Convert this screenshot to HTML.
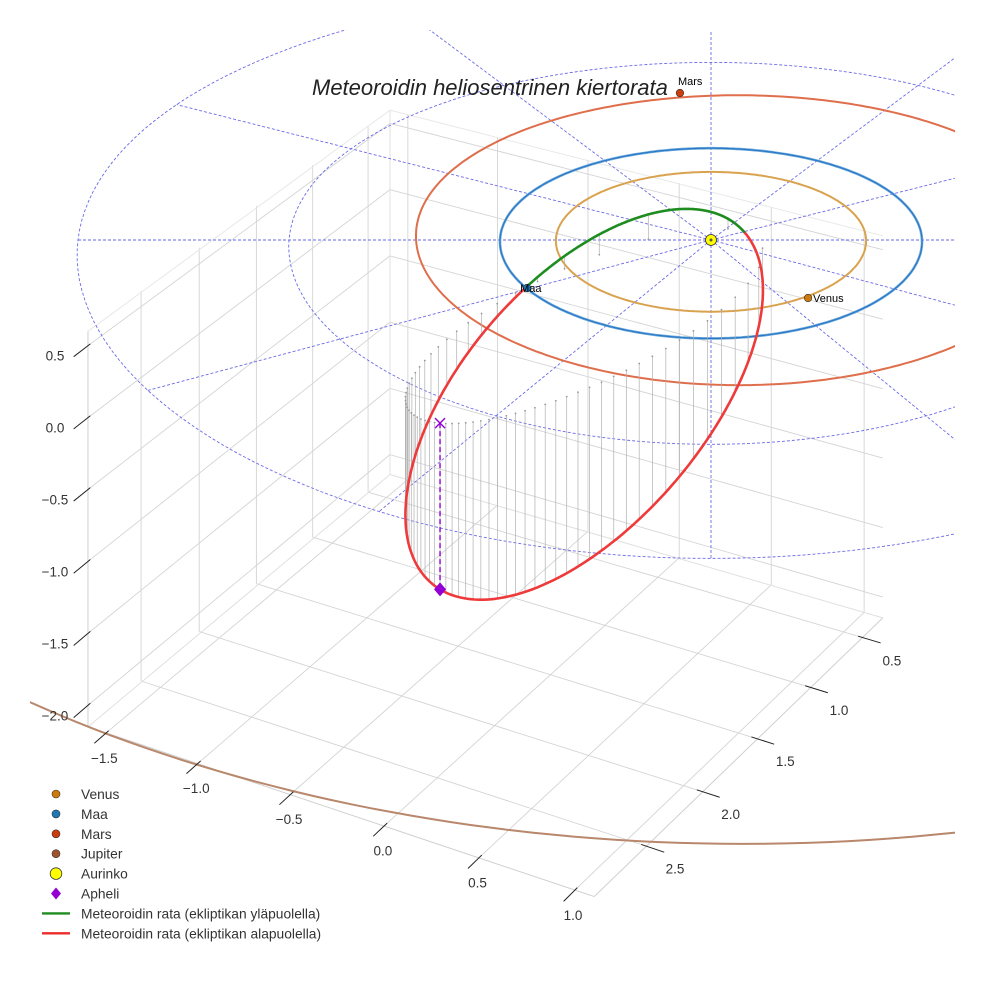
<!DOCTYPE html>
<html><head><meta charset="utf-8">
<style>
html,body{margin:0;padding:0;background:#fff;}
svg{display:block;font-family:"Liberation Sans",sans-serif;}
</style></head>
<body>
<svg id="chart" width="984" height="984" viewBox="0 0 984 984" xmlns="http://www.w3.org/2000/svg">
<defs><clipPath id="plotclip"><rect x="30" y="30" width="925" height="954"/></clipPath></defs>
<rect x="0" y="0" width="984" height="984" fill="#fff"/>
<g id="grid"></g>
<g id="plot" clip-path="url(#plotclip)"></g>
<g id="ticks"></g>
<text x="312" y="95" font-size="22" font-style="italic" fill="#222">Meteoroidin heliosentrinen kiertorata</text>
<g id="legend"></g>
</svg>
<script>
// ---- data ----
const xTicks = [-1.5, -1.0, -0.5, 0.0, 0.5, 1.0];
const yTicks = [0.5, 1.0, 1.5, 2.0, 2.5];
const zTicks = [-2.0, -1.5, -1.0, -0.5, 0.0, 0.5];
const xTickLabels = ["\u22121.5", "\u22121.0", "\u22120.5", "0.0", "0.5", "1.0"];
const yTickLabels = ["0.5", "1.0", "1.5", "2.0", "2.5"];
const zTickLabels = ["\u22122.0", "\u22121.5", "\u22121.0", "\u22120.5", "0.0", "0.5"];
const axisLimits = [-1.6, 1.1, 0.3, 2.95, -2.15, 0.6];
const planetNames = ["Venus", "Maa", "Mars", "Jupiter"];
const planetOrbitRadius = [0.735, 1.0, 1.53, 5.2];
const planetOrbitCenterX = [0, 0, 0.073, 0.121];
const planetOrbitCenterY = [0, 0, -0.134, -0.07];
const planetPosX = [0.693, -0.50, -0.949, null];
const planetPosY = [0.290, 0.862, -1.341, null];
const gridCircleRadius = [1, 2, 3];
const gridRadialAngles = [0, 30, 60, 90, 120, 150, 180, 210, 240, 270, 300, 330];
const orbitSemiLatus = [0.302];
const orbitEccentricity = [0.878];
const orbitPerihelionDir = [0.07, -0.883, 0.466];
const orbitMinorDir = [-0.748, 0.275, 0.605];

// ---- projection ----
const C = Math.cos(Math.PI / 6), S = Math.sin(Math.PI / 6);
function proj(x, y, z) {
  const X = x * C - y * S, Y = x * S + y * C;
  const f = 1 / (1 - 0.035 * Y);
  return [711 + 211 * X * Math.sqrt(f), 240 + (95 * Y - 135 * z) * f];
}
const NS = "http://www.w3.org/2000/svg";
function mk(tag, attrs, parent) {
  const e = document.createElementNS(NS, tag);
  for (const k in attrs) e.setAttribute(k, attrs[k]);
  parent.appendChild(e);
  return e;
}
function pathFrom(pts) { return pts.map((p, i) => (i ? "L" : "M") + p[0].toFixed(1) + " " + p[1].toFixed(1)).join(""); }

const grid = document.getElementById("grid");
const plot = document.getElementById("plot");
const ticks = document.getElementById("ticks");
const legend = document.getElementById("legend");
const [xl, xh, yl, yh, zl, zh] = axisLimits;

function gline(a, b, col, w, name) {
  const p1 = proj(a[0], a[1], a[2]), p2 = proj(b[0], b[1], b[2]);
  const e = mk("line", {x1: p1[0], y1: p1[1], x2: p2[0], y2: p2[1], stroke: col, "stroke-width": w}, grid);
  
  
}
xTicks.forEach(x => gline([x, yl, zl], [x, yh, zl], "#d4d4d4", 0.9, "floor-gridline-x"));
yTicks.forEach(y => gline([xl, y, zl], [xh, y, zl], "#d4d4d4", 0.9, "floor-gridline-y"));
yTicks.forEach(y => gline([xl, y, zl], [xl, y, zh], "#d4d4d4", 0.9, "left-wall-gridline-y"));
zTicks.forEach(z => gline([xl, yl, z], [xl, yh, z], "#d4d4d4", 0.9, "left-wall-gridline-z"));
xTicks.forEach(x => gline([x, yl, zl], [x, yl, zh], "#d4d4d4", 0.9, "back-wall-gridline-x"));
zTicks.forEach(z => gline([xl, yl, z], [xh, yl, z], "#d4d4d4", 0.9, "back-wall-gridline-z"));
gline([xl, yh, zl], [xh, yh, zl], "#cfcfcf", 1, "x-axis-line");
gline([xh, yl, zl], [xh, yh, zl], "#cfcfcf", 1, "y-axis-line");
gline([xl, yh, zl], [xl, yh, zh], "#cfcfcf", 1, "z-axis-line");
gline([xl, yl, zl], [xl, yl, zh], "#e0e0e0", 1, "pane-edge");
gline([xl, yl, zh], [xl, yh, zh], "#e8e8e8", 1, "pane-edge");
gline([xl, yl, zh], [xh, yl, zh], "#e8e8e8", 1, "pane-edge");
gline([xl, yl, zl], [xh, yl, zl], "#e0e0e0", 1, "pane-edge");
gline([xl, yl, zl], [xl, yh, zl], "#e0e0e0", 1, "pane-edge");

function tickMark(a, b, name) {
  const p1 = proj(a[0], a[1], a[2]), p2 = proj(b[0], b[1], b[2]);
  const e = mk("line", {x1: p1[0], y1: p1[1], x2: p2[0], y2: p2[1], stroke: "#222", "stroke-width": 1}, ticks);
  
  
}
function tickLabel(p, dx, dy, txt, name) {
  const t = mk("text", {x: p[0] + dx, y: p[1] + dy + 5, "font-size": 13.5, fill: "#333", "text-anchor": "middle"}, ticks);
  t.textContent = txt;
  
  
}
xTicks.forEach((x, i) => {
  tickMark([x, yh - 0.02, zl], [x, yh + 0.1, zl], "x-tick");
  tickLabel(proj(x, yh, zl), -2, 25, xTickLabels[i], "x-tick-label");
});
yTicks.forEach((y, i) => {
  tickMark([xh - 0.02, y, zl], [xh + 0.1, y, zl], "y-tick");
  tickLabel(proj(xh, y, zl), 30, 23, yTickLabels[i], "y-tick-label");
});
zTicks.forEach((z, i) => {
  tickMark([xl, yh - 0.02, z], [xl, yh + 0.12, z], "z-tick");
  tickLabel(proj(xl, yh, z), -33, 10, zTickLabels[i], "z-tick-label");
});

gridCircleRadius.forEach(R => {
  const pts = [];
  for (let d = 0; d <= 360; d += 2) { const a = d * Math.PI / 180; pts.push(proj(R * Math.cos(a), R * Math.sin(a), 0)); }
  const e = mk("path", {d: pathFrom(pts), fill: "none", stroke: "#6a6ae8", "stroke-width": 0.9, "stroke-dasharray": "3 2"}, plot);
  
  
});
gridRadialAngles.forEach(d => {
  const a = d * Math.PI / 180, R = gridCircleRadius[gridCircleRadius.length - 1];
  const p1 = proj(0, 0, 0), p2 = proj(R * Math.cos(a), R * Math.sin(a), 0);
  const e = mk("line", {x1: p1[0], y1: p1[1], x2: p2[0], y2: p2[1], stroke: "#6a6ae8", "stroke-width": 0.9, "stroke-dasharray": "3 2"}, plot);
  
  
});

const orbitColors = ["#d9a24e", "#2a74c8", "#df6e4c", "#b8876c"];
planetNames.forEach((n, i) => {
  const pts = [];
  for (let d = 0; d <= 360; d += 1) {
    const a = d * Math.PI / 180;
    pts.push(proj(planetOrbitCenterX[i] + planetOrbitRadius[i] * Math.cos(a), planetOrbitCenterY[i] + planetOrbitRadius[i] * Math.sin(a), 0));
  }
  if (i === 1) {
    const e0 = mk("path", {d: pathFrom(pts), fill: "none", stroke: "#6aaad8", "stroke-width": 2.6}, plot);
    
    
  }
  const e = mk("path", {d: pathFrom(pts), fill: "none", stroke: orbitColors[i], "stroke-width": i === 1 ? 1.1 : 2}, plot);
  
  
});

const p = orbitSemiLatus[0], ecc = orbitEccentricity[0];
function orbitPoint(th) {
  const r = p / (1 + ecc * Math.cos(th)), c = Math.cos(th), s = Math.sin(th);
  return [0, 1, 2].map(k => r * (c * orbitPerihelionDir[k] + s * orbitMinorDir[k]));
}
for (let k = 0; k < 64; k++) {
  const Mean = 2 * Math.PI * k / 64;
  let E = Mean;
  for (let it = 0; it < 40; it++) E = E - (E - ecc * Math.sin(E) - Mean) / (1 - ecc * Math.cos(E));
  const th = 2 * Math.atan2(Math.sqrt(1 + ecc) * Math.sin(E / 2), Math.sqrt(1 - ecc) * Math.cos(E / 2));
  const q = orbitPoint(th);
  const a = proj(q[0], q[1], q[2]), b = proj(q[0], q[1], 0);
  const e = mk("line", {x1: a[0], y1: a[1], x2: b[0], y2: b[1], stroke: "#b0b0b0", "stroke-width": 0.7}, plot);
  
  
  const d = mk("circle", {cx: b[0], cy: b[1], r: 0.9, fill: "#999"}, plot);
  
  
}
let seg = [], segSign = null;
function flush() {
  if (seg.length > 1) {
    const e = mk("path", {d: pathFrom(seg), fill: "none", stroke: segSign ? "#1e8c1e" : "#ee3a3a", "stroke-width": 2.6, "stroke-linejoin": "round", "stroke-linecap": "round"}, plot);
    
    
  }
}
for (let d = 0; d <= 360; d += 0.5) {
  const q = orbitPoint(d * Math.PI / 180), sg = q[2] >= 0, pt = proj(q[0], q[1], q[2]);
  if (segSign === null) segSign = sg;
  if (sg !== segSign) { seg.push(pt); flush(); seg = [pt]; segSign = sg; } else seg.push(pt);
}
flush();

const aq = orbitPoint(Math.PI);
const ap = proj(aq[0], aq[1], aq[2]), ae = proj(aq[0], aq[1], 0);
let el = mk("line", {x1: ae[0], y1: ae[1], x2: ap[0], y2: ap[1], stroke: "#9400d3", "stroke-width": 1.4, "stroke-dasharray": "5 3"}, plot);


el = mk("path", {d: `M${ae[0]-5} ${ae[1]-5}L${ae[0]+5} ${ae[1]+5}M${ae[0]+5} ${ae[1]-5}L${ae[0]-5} ${ae[1]+5}`, stroke: "#9400d3", "stroke-width": 1.4, fill: "none"}, plot);


el = mk("path", {d: `M${ap[0]} ${ap[1]-7}L${ap[0]+6} ${ap[1]}L${ap[0]} ${ap[1]+7}L${ap[0]-6} ${ap[1]}Z`, fill: "#9400d3"}, plot);



const planetColors = ["#cc7a0a", "#1f77b4", "#cc3c0c", "#a0522d"];
const labelOffsets = [[5, 4], [-7, 4], [-2, -8]];
planetNames.forEach((n, i) => {
  if (planetPosX[i] === null) return;
  const q = proj(planetPosX[i], planetPosY[i], 0);
  const c = mk("circle", {cx: q[0], cy: q[1], r: 3.8, fill: planetColors[i], stroke: "#333", "stroke-width": 0.6}, plot);
  
  
  const t = mk("text", {x: q[0] + labelOffsets[i][0], y: q[1] + labelOffsets[i][1], "font-size": 11, fill: "#000"}, plot);
  t.textContent = n;
  
  
});
const sp = proj(0, 0, 0);
el = mk("circle", {cx: sp[0], cy: sp[1], r: 5.5, fill: "#ffff00", stroke: "#333", "stroke-width": 0.8}, plot);


el = mk("circle", {cx: sp[0], cy: sp[1], r: 1.5, fill: "#555"}, plot);



const legendLabels = ["Venus", "Maa", "Mars", "Jupiter", "Aurinko", "Apheli", "Meteoroidin rata (ekliptikan yläpuolella)", "Meteoroidin rata (ekliptikan alapuolella)"];
legendLabels.forEach((lab, i) => {
  const y = 794 + i * 19.9, x = 56;
  let m;
  if (i < 4) m = mk("circle", {cx: x, cy: y, r: 4, fill: planetColors[i], stroke: "#333", "stroke-width": 0.6}, legend);
  else if (i === 4) m = mk("circle", {cx: x, cy: y, r: 5.8, fill: "#ffff00", stroke: "#333", "stroke-width": 0.8}, legend);
  else if (i === 5) m = mk("path", {d: `M${x} ${y-6}L${x+5} ${y}L${x} ${y+6}L${x-5} ${y}Z`, fill: "#9400d3"}, legend);
  else m = mk("line", {x1: 42, y1: y, x2: 70, y2: y, stroke: i === 6 ? "#1e8c1e" : "#ee2a2a", "stroke-width": 2.4}, legend);
  
  
  const t = mk("text", {x: 81, y: y + 5, "font-size": 13.8, fill: "#333"}, legend);
  t.textContent = lab;
  
  
});
</script>
</body></html>
